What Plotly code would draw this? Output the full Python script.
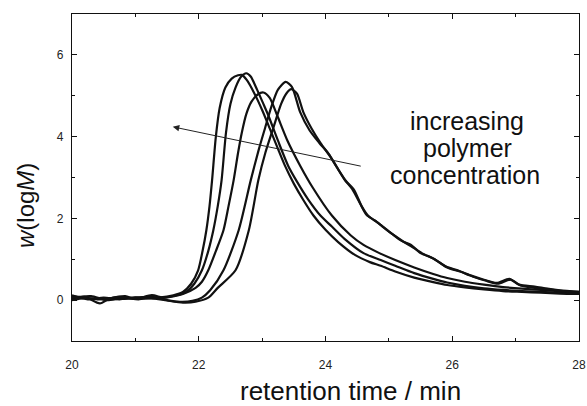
import plotly.graph_objects as go

# Retention time (min) and w(logM) for five concentrations
t_A = [20.0, 20.2, 20.4, 20.6, 20.8, 21.0, 21.2, 21.4, 21.6, 21.75, 21.88, 21.99, 22.06, 22.12, 22.17, 22.21,
       22.27, 22.33, 22.42, 22.52, 22.62, 22.68, 22.76, 22.88, 23.0, 23.12, 23.25, 23.36, 23.5, 23.65, 23.81,
       24.0, 24.2, 24.47, 24.7, 24.87, 25.1, 25.4, 25.7, 25.92, 26.2, 26.5, 26.8, 27.1, 27.4, 27.7, 28.0]
w_A = [0.10, 0.06, 0.02, 0.05, 0.03, 0.06, 0.08, 0.07, 0.12, 0.20, 0.40, 0.73, 1.20, 1.71, 2.30, 2.93,
       4.00, 4.70, 5.20, 5.42, 5.50, 5.51, 5.38, 5.05, 4.65, 4.20, 3.70, 3.29, 2.85, 2.45, 2.07,
       1.72, 1.42, 1.10, 0.93, 0.84, 0.70, 0.55, 0.44, 0.37, 0.31, 0.26, 0.22, 0.20, 0.18, 0.16, 0.15]

t_B = [20.0, 20.2, 20.44, 20.6, 20.84, 21.0, 21.26, 21.45, 21.65, 21.8, 21.93, 22.05, 22.15, 22.23, 22.3,
       22.36, 22.43, 22.5, 22.58, 22.67, 22.75, 22.82, 22.92, 23.02, 23.1, 23.25, 23.41, 23.55, 23.72, 23.92,
       24.1, 24.3, 24.6, 24.87, 25.1, 25.4, 25.7, 25.92, 26.2, 26.5, 26.8, 27.1, 27.4, 27.7, 28.0]
w_B = [0.04, 0.08, -0.08, 0.04, 0.10, 0.03, 0.12, 0.06, 0.12, 0.20, 0.40, 0.73, 1.20, 1.71, 2.30,
       2.93, 4.10, 4.80, 5.20, 5.47, 5.55, 5.47, 5.15, 4.80, 4.51, 3.90, 3.29, 2.90, 2.48, 2.07,
       1.80, 1.50, 1.15, 0.98, 0.84, 0.66, 0.52, 0.43, 0.35, 0.29, 0.25, 0.22, 0.20, 0.18, 0.16]

t_C = [20.0, 20.25, 20.5, 20.75, 21.0, 21.3, 21.55, 21.75, 21.95, 22.05, 22.15, 22.27, 22.39, 22.47, 22.55,
       22.62, 22.68, 22.75, 22.83, 22.93, 23.02, 23.12, 23.24, 23.4, 23.6, 23.8, 24.1, 24.4, 24.6, 24.85,
       25.1, 25.4, 25.7, 25.92, 26.2, 26.5, 26.8, 27.1, 27.4, 27.7, 28.0]
w_C = [0.12, 0.02, 0.06, 0.02, 0.07, 0.04, 0.08, 0.15, 0.30, 0.45, 0.73, 1.20, 1.71, 2.30, 2.93,
       3.60, 4.10, 4.55, 4.85, 5.03, 5.08, 4.95, 4.51, 3.90, 3.29, 2.75, 2.07, 1.58, 1.35, 1.15,
       0.98, 0.80, 0.64, 0.54, 0.45, 0.38, 0.32, 0.28, 0.25, 0.22, 0.20]

t_D = [20.0, 20.3, 20.55, 20.8, 21.05, 21.3, 21.5, 21.7, 21.9, 22.05, 22.18, 22.39, 22.63, 22.82, 22.95,
       23.05, 23.15, 23.25, 23.37, 23.47, 23.6, 23.75, 23.9, 24.05, 24.18, 24.3, 24.42, 24.55, 24.65, 24.78,
       24.9, 25.05, 25.2, 25.35, 25.5, 25.7, 25.9, 26.1, 26.3, 26.5, 26.7, 26.9, 27.05, 27.3, 27.5, 27.7, 28.0]
w_D = [0.06, 0.10, 0.00, 0.05, 0.02, 0.06, 0.00, -0.04, -0.02, 0.06, 0.24, 0.73, 1.71, 2.93, 3.70,
       4.23, 4.75, 5.15, 5.34, 5.22, 4.60, 4.15, 3.85, 3.58, 3.25, 2.95, 2.72, 2.35, 2.08, 1.95,
       1.80, 1.62, 1.45, 1.35, 1.15, 1.02, 0.82, 0.72, 0.60, 0.50, 0.42, 0.52, 0.38, 0.33, 0.28, 0.24, 0.20]

t_E = [20.0, 20.2, 20.5, 20.75, 21.0, 21.25, 21.5, 21.75, 21.95, 22.15, 22.3, 22.58, 22.79, 22.94, 23.05,
       23.18, 23.3, 23.38, 23.46, 23.55, 23.65, 23.78, 23.92, 24.08, 24.2, 24.32, 24.45, 24.57, 24.68, 24.8,
       24.92, 25.07, 25.22, 25.37, 25.52, 25.72, 25.92, 26.12, 26.32, 26.52, 26.72, 26.92, 27.08, 27.3, 27.55,
       27.75, 28.0]
w_E = [0.00, 0.05, 0.02, 0.08, 0.03, 0.05, -0.01, -0.06, -0.04, 0.06, 0.30, 0.73, 1.71, 2.93, 3.60,
       4.23, 4.80, 5.05, 5.16, 5.05, 4.60, 4.20, 3.85, 3.50, 3.20, 2.92, 2.70, 2.30, 2.05, 1.92,
       1.78, 1.60, 1.44, 1.30, 1.15, 1.00, 0.80, 0.70, 0.58, 0.48, 0.40, 0.50, 0.36, 0.30, 0.26,
       0.22, 0.18]

series = [(t_A, w_A), (t_B, w_B), (t_C, w_C), (t_D, w_D), (t_E, w_E)]

x_ticks = [20, 22, 24, 26, 28]
y_ticks = [0, 2, 4, 6]
label_lines = ["increasing", "polymer", "concentration"]

FONT = "Liberation Sans, Arial, sans-serif"

fig = go.Figure()
for t, w in series:
    fig.add_trace(go.Scatter(x=t, y=w, mode="lines",
                             line=dict(color="#111111", width=2.2, shape="spline", smoothing=0.7),
                             showlegend=False, hoverinfo="skip"))

axis_common = dict(showgrid=False, zeroline=False, showline=True, linecolor="#111111", linewidth=1.3,
                   mirror="ticks", ticks="inside", ticklen=5, tickwidth=1.2, tickcolor="#111111",
                   tickfont=dict(family=FONT, size=12, color="#222222"), automargin=False)

fig.update_xaxes(range=[20, 28], tickvals=x_ticks, ticktext=[str(v) for v in x_ticks],
                 minor=dict(ticks="inside", ticklen=3, dtick=1, tick0=20, tickcolor="#111111"),
                 ticklabelstandoff=12, **axis_common)
fig.update_yaxes(range=[-1, 7], tickvals=y_ticks, ticktext=[str(v) for v in y_ticks],
                 minor=dict(ticks="inside", ticklen=3, dtick=1, tick0=-1, tickcolor="#111111"),
                 ticklabelstandoff=5, **axis_common)

annotations = [
    dict(x=21.59, y=4.24, ax=24.58, ay=3.27, xref="x", yref="y", axref="x", ayref="y",
         text="", showarrow=True, arrowhead=2, arrowsize=1.3, arrowwidth=1, arrowcolor="#222222"),
    dict(x=(350 - 72) / 507, y=(341 - 391) / 327, xref="paper", yref="paper", showarrow=False,
         text="retention time / min", font=dict(family=FONT, size=26, color="#111111"),
         xanchor="center", yanchor="middle"),
    dict(x=(25 - 72) / 507, y=(341 - 206) / 327, xref="paper", yref="paper", showarrow=False,
         text="<i>w</i>(log<i>M</i>)", textangle=-90, font=dict(family=FONT, size=24, color="#111111"),
         xanchor="center", yanchor="middle"),
]
for txt, cy, cx in zip(label_lines, [121, 148, 175], [467, 467, 465]):
    annotations.append(dict(x=(cx - 72) / 507, y=(341 - cy) / 327, xref="paper", yref="paper",
                            showarrow=False, text=txt, xanchor="center", yanchor="middle",
                            font=dict(family=FONT, size=25, color="#111111")))

fig.update_layout(width=587, height=406, margin=dict(l=72, r=8, t=14, b=65, autoexpand=False),
                  plot_bgcolor="white", paper_bgcolor="white", annotations=annotations)

fig.write_html("out.html")
